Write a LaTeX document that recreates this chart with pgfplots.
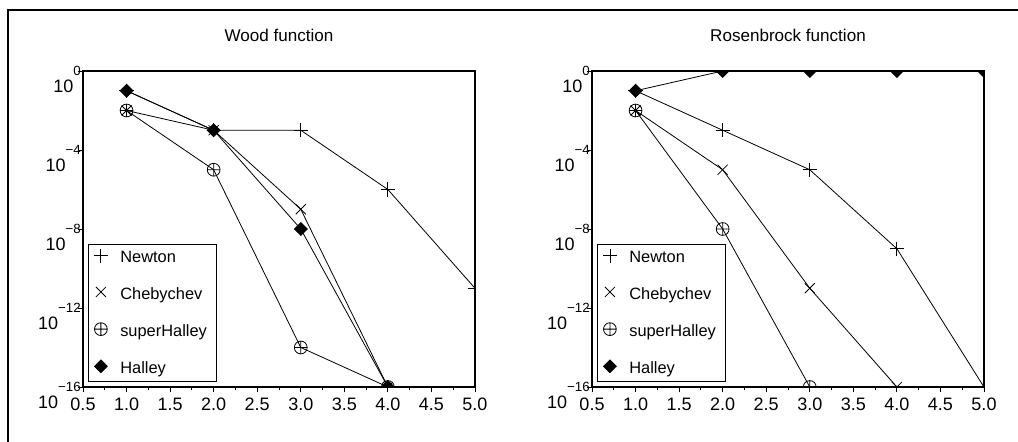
\documentclass[border=0pt]{standalone}
\usepackage{fontspec}
\setmainfont{Liberation Sans}
\usepackage{pgfplots}
\pgfplotsset{compat=1.18}
\usetikzlibrary{plotmarks}

\newcommand\ylab[1]{\raisebox{-12.4pt}{\fontsize{13.5}{15}\selectfont 10}{\fontsize{10}{11}\selectfont #1}}

\tikzset{
 pN/.style={mark=+, mark size=5.3pt},
 pC/.style={mark=x, mark size=5.3pt},
 pS/.style={mark=oplus, mark size=4.8pt},
 pH/.style={mark=square*, mark options={rotate=45}, mark size=3.4pt},
}

\pgfplotsset{
  every axis/.append style={
  scale only axis, width=294pt, height=237pt,
  xmin=0.5, xmax=5, ymin=1e-16, ymax=1,
  xtick={0.5,1,1.5,2,2.5,3,3.5,4,4.5,5}, minor x tick num=1,
  ytick={1e-16,1e-12,1e-8,1e-4,1},
  yticklabels={\ylab{−16},\ylab{−12},\ylab{−8},\ylab{−4},\ylab{0}},
  yminorticks=false,
  tick align=outside, tick pos=left,
  major tick length=4pt, minor tick length=2.5pt,
  axis line style={line width=1pt},
  every tick/.style={black, line width=0.6pt},
  xticklabel style={font=\fontsize{13.5}{15}\selectfont},
  /pgf/number format/fixed, /pgf/number format/fixed zerofill,
  /pgf/number format/precision=1, /pgf/number format/assume math mode=true,
  yticklabel style={anchor=base east, yshift=-3.6pt, xshift=3.5pt, inner sep=1pt},
  title style={font=\fontsize{12.8}{15}\selectfont, at={(0.5,1)}, anchor=center, yshift=21pt},
  clip marker paths=true,
  every axis plot/.append style={black, line width=0.6pt},
  legend cell align=left,
  legend style={at={(0,0)}, anchor=south west, xshift=3.75pt, yshift=3.75pt,
    font=\fontsize{12.3}{14}\selectfont, row sep=14.75pt, column sep=0pt,
    draw=black, line width=0.75pt,
    inner xsep=3pt, inner ysep=3pt, nodes={inner sep=1pt}},
  legend image code/.code={\path[##1] plot coordinates {(0pt,2pt)}; \path (-6pt,0pt) (13.25pt,0pt);},
 },
}

\begin{document}
\fontsize{12}{14}\selectfont
\begin{tikzpicture}
\useasboundingbox (0,0) rectangle (763.5pt,331.5pt);
\draw[line width=1.5pt] (6pt,0pt) -- (6pt,324pt) -- (770pt,324pt);

\begin{semilogyaxis}[at={(62.25pt,41.25pt)}, anchor=south west, title={Wood function}]
\addplot[pN] coordinates {(1,1e-1) (2,1e-3) (3,1e-3) (4,1e-6) (5,1e-11)};
\addlegendentry{Newton}
\addplot[pC] coordinates {(1,1e-2) (2,1e-3) (3,1e-7) (4,1e-16)};
\addlegendentry{Chebychev}
\addplot[pS] coordinates {(1,1e-2) (2,1e-5) (3,1e-14) (4,1e-16)};
\addlegendentry{superHalley\hspace*{3pt}}
\addplot[pH] coordinates {(1,1e-1) (2,1e-3) (3,1e-8) (4,1e-16)};
\addlegendentry{Halley}
\end{semilogyaxis}

\begin{semilogyaxis}[at={(444pt,41.25pt)}, anchor=south west, title={Rosenbrock function}]
\addplot[pN] coordinates {(1,1e-1) (2,1e-3) (3,1e-5) (4,1e-9) (5,1e-16)};
\addlegendentry{Newton}
\addplot[pC] coordinates {(1,1e-2) (2,1e-5) (3,1e-11) (4,1e-16)};
\addlegendentry{Chebychev}
\addplot[pS] coordinates {(1,1e-2) (2,1e-8) (3,1e-16)};
\addlegendentry{superHalley\hspace*{3pt}}
\addplot[pH] coordinates {(1,1e-1) (2,1) (3,1) (4,1) (5,1)};
\addlegendentry{Halley}
\end{semilogyaxis}
\end{tikzpicture}
\end{document}
